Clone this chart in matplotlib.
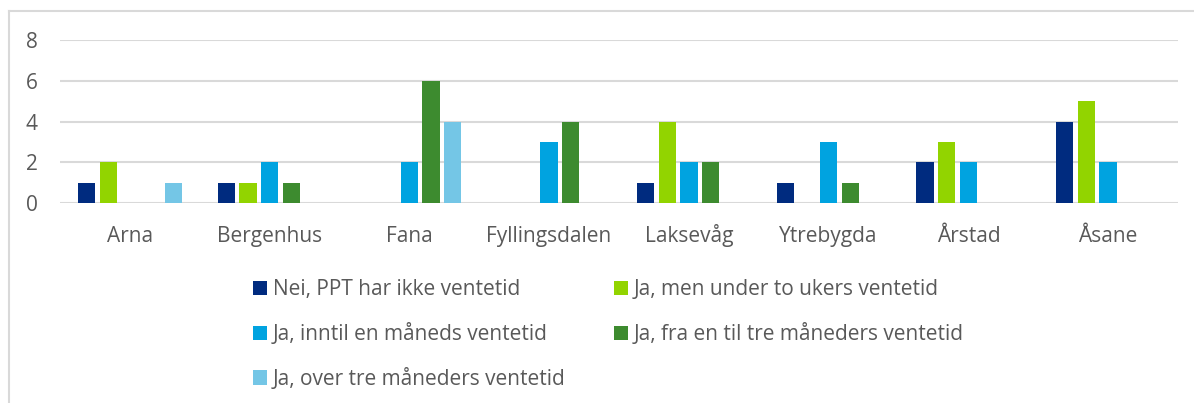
import matplotlib.pyplot as plt
from matplotlib.lines import Line2D
from matplotlib.patches import Patch
import numpy as np

plt.rcParams['font.family'] = ['Open Sans', 'DejaVu Sans']

# Data
bydeler = ['Arna', 'Bergenhus', 'Fana', 'Fyllingsdalen', 'Laksevåg',
           'Ytrebygda', 'Årstad', 'Åsane']
serie_navn = ['Nei, PPT har ikke ventetid',
              'Ja, men under to ukers ventetid',
              'Ja, inntil en måneds ventetid',
              'Ja, fra en til tre måneders ventetid',
              'Ja, over tre måneders ventetid']
nei = [1, 1, 0, 0, 1, 1, 2, 4]
under_to_uker = [2, 1, 0, 0, 4, 0, 3, 5]
inntil_en_mnd = [0, 2, 2, 3, 2, 3, 2, 2]
en_til_tre_mnd = [0, 1, 6, 4, 2, 1, 0, 0]
over_tre_mnd = [1, 0, 4, 0, 0, 0, 0, 0]
serier = [nei, under_to_uker, inntil_en_mnd, en_til_tre_mnd, over_tre_mnd]
farger = ['#002B7F', '#92D400', '#00A3E0', '#3D8B2F', '#74C6E6']

tekstfarge = '#595959'

fig = plt.figure(figsize=(11.94, 4.03), dpi=100)
ax = fig.add_axes([60 / 1194, 1 - 203.3 / 403, 1118 / 1194, 163.3 / 403])

x = np.arange(len(bydeler))
slot = 0.155
bredde = 0.124
for j, (verdier, farge) in enumerate(zip(serier, farger)):
    ax.bar(x + (j - 2) * slot, verdier, width=bredde, color=farge, zorder=3)

ax.set_xlim(-0.5, len(bydeler) - 0.5)
ax.set_ylim(0, 8)
ax.set_yticks([0, 2, 4, 6, 8])
ax.set_xticks(x)
ax.set_xticklabels(bydeler)
ax.tick_params(axis='both', length=0, labelsize=15, colors=tekstfarge)
ax.tick_params(axis='x', pad=27.6)
ax.tick_params(axis='y', pad=16)
for lbl in ax.get_xticklabels():
    lbl.set_verticalalignment('baseline')
ax.grid(axis='y', color='#D9D9D9', linewidth=1.5, zorder=0)
ax.set_axisbelow(True)
for s in ax.spines.values():
    s.set_visible(False)

# Legend (row-major order as in the reference)
rekkefolge = [0, 2, 4, 1, 3]
handles = [Patch(facecolor=farger[i]) for i in rekkefolge]
labels = [serie_navn[i] for i in rekkefolge]
fig.legend(handles, labels, ncol=2, loc='upper left',
           bbox_to_anchor=(253 / 1194, 1 - 279 / 403), frameon=False,
           fontsize=15, labelcolor=tekstfarge, handlelength=0.67,
           handleheight=0.67, handletextpad=0.29, labelspacing=1.1,
           columnspacing=2.3, borderpad=0, borderaxespad=0)

# Chart border (left and top visible in the crop)
fig.add_artist(Line2D([9 / 1194, 9 / 1194], [0, 1 - 11 / 403],
                      color='#D9D9D9', linewidth=1.5))
fig.add_artist(Line2D([9 / 1194, 1], [1 - 11 / 403, 1 - 11 / 403],
                      color='#D9D9D9', linewidth=1.5))

fig.savefig('out.png', dpi=100)
